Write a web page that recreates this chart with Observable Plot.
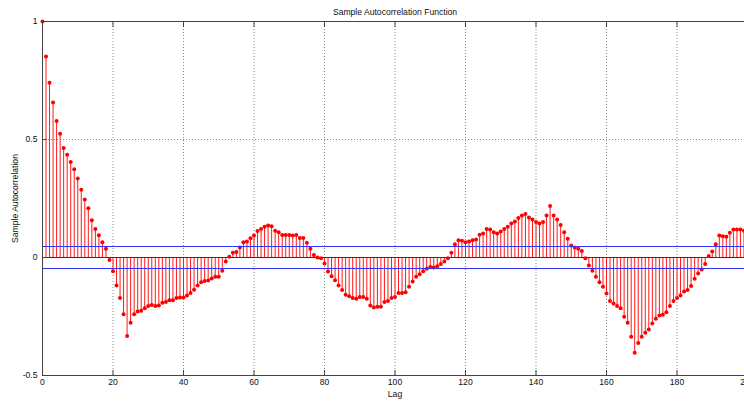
<!DOCTYPE html>
<html>
<head>
<meta charset="utf-8">
<script src="https://cdn.jsdelivr.net/npm/d3@7"></script>
<script src="https://cdn.jsdelivr.net/npm/@observablehq/plot@0.6"></script>
<style>
  html, body { margin: 0; padding: 0; background: #fff; overflow: hidden; }
  #chart svg { max-width: none; display: block; }
</style>
</head>
<body>
<div id="chart"></div>
<script>
// Sample autocorrelation, one value per lag starting at lag 0
const acf = [
  1.000, 0.852, 0.740, 0.657, 0.578, 0.524, 0.464, 0.435, 0.405, 0.374,
  0.335, 0.287, 0.246, 0.209, 0.158, 0.121, 0.094, 0.065, 0.037, -0.011,
  -0.058, -0.119, -0.172, -0.240, -0.333, -0.277, -0.240, -0.229, -0.226, -0.215,
  -0.206, -0.201, -0.206, -0.203, -0.192, -0.189, -0.181, -0.181, -0.172, -0.169,
  -0.169, -0.161, -0.150, -0.137, -0.119, -0.105, -0.100, -0.097, -0.089, -0.082,
  -0.082, -0.056, -0.017, 0.003, 0.020, 0.023, 0.042, 0.065, 0.068, 0.082,
  0.093, 0.112, 0.121, 0.130, 0.136, 0.132, 0.113, 0.107, 0.095, 0.095,
  0.095, 0.093, 0.095, 0.083, 0.083, 0.062, 0.037, 0.011, 0.000, -0.003,
  -0.025, -0.059, -0.079, -0.096, -0.119, -0.138, -0.158, -0.164, -0.172, -0.175,
  -0.167, -0.167, -0.175, -0.203, -0.212, -0.209, -0.209, -0.189, -0.184, -0.172,
  -0.167, -0.150, -0.150, -0.147, -0.124, -0.102, -0.082, -0.071, -0.058, -0.048,
  -0.040, -0.042, -0.037, -0.028, -0.017, -0.003, 0.020, 0.056, 0.073, 0.071,
  0.065, 0.068, 0.073, 0.076, 0.096, 0.102, 0.121, 0.119, 0.107, 0.102,
  0.110, 0.121, 0.130, 0.144, 0.153, 0.167, 0.178, 0.184, 0.169, 0.161,
  0.150, 0.144, 0.150, 0.178, 0.218, 0.178, 0.161, 0.138, 0.107, 0.079,
  0.051, 0.042, 0.037, 0.028, -0.003, -0.034, -0.056, -0.082, -0.105, -0.124,
  -0.153, -0.184, -0.195, -0.206, -0.215, -0.251, -0.277, -0.336, -0.404, -0.362,
  -0.336, -0.319, -0.305, -0.280, -0.260, -0.246, -0.243, -0.232, -0.206, -0.184,
  -0.172, -0.161, -0.144, -0.138, -0.121, -0.090, -0.068, -0.051, -0.028, 0.006,
  0.025, 0.056, 0.093, 0.090, 0.088, 0.105, 0.119, 0.119, 0.119, 0.113
];

// Approximate 95% confidence bound
const confBound = 0.0466;

const xTicks = [0, 20, 40, 60, 80, 100, 120, 140, 160, 180, 200];
const yTicks = [-0.5, 0, 0.5, 1];
const xDomain = [0, 200];
const yDomain = [-0.5, 1];

const title = "Sample Autocorrelation Function";
const xLabel = "Lag";
const yLabel = "Sample Autocorrelation";

const points = acf.map((value, lag) => ({lag, value}));
const textColor = "#111";
const gridColor = "#8a8a8a";
const axisColor = "#444";

const chart = Plot.plot({
  width: 750,
  height: 402,
  marginLeft: 42,
  marginRight: 3,
  marginTop: 21,
  marginBottom: 27,
  style: {
    fontFamily: "'Liberation Sans', Arial, sans-serif",
    fontSize: "8.6px",
    color: textColor,
    background: "#fff",
    maxWidth: "none"
  },
  x: {domain: xDomain, axis: null},
  y: {domain: yDomain, axis: null},
  marks: [
    // dotted grid
    Plot.ruleX(xTicks, {y1: yDomain[0], y2: yDomain[1], stroke: gridColor, strokeDasharray: "1,2"}),
    Plot.ruleY(yTicks.filter(d => d !== 0), {x1: xDomain[0], x2: xDomain[1], stroke: gridColor, strokeDasharray: "1,2"}),
    // stems and markers
    Plot.ruleX(points, {x: "lag", y1: 0, y2: "value", stroke: "#ff1a1a", strokeWidth: 1}),
    Plot.ruleY([0], {x1: xDomain[0], x2: xDomain[1], stroke: "#333"}),
    Plot.dot(points, {x: "lag", y: "value", r: 2, fill: "#ff0000"}),
    // confidence bounds
    Plot.ruleY([confBound, -confBound], {x1: xDomain[0], x2: xDomain[1], stroke: "#3030ff"}),
    // axes box
    Plot.ruleY(yDomain, {x1: xDomain[0], x2: xDomain[1], stroke: axisColor}),
    Plot.ruleX(xDomain, {y1: yDomain[0], y2: yDomain[1], stroke: axisColor}),
    // inward ticks
    Plot.axisX(xTicks, {anchor: "bottom", tickSize: -5, tickFormat: () => "", label: null, stroke: axisColor}),
    Plot.axisX(xTicks, {anchor: "top", tickSize: -5, tickFormat: () => "", label: null, stroke: axisColor}),
    Plot.axisY(yTicks, {anchor: "left", tickSize: -5, tickFormat: () => "", label: null, stroke: axisColor}),
    // tick labels
    Plot.axisX(xTicks, {anchor: "bottom", tickSize: 0, tickPadding: 3, tickFormat: d => String(d), label: null, fill: textColor}),
    Plot.axisY(yTicks, {anchor: "left", tickSize: 0, tickPadding: 5, tickFormat: d => String(d), label: null, fill: textColor}),
    // title and axis labels
    Plot.text([title], {frameAnchor: "top", dy: -9, textAnchor: "middle", lineAnchor: "middle", fill: textColor}),
    Plot.text([xLabel], {frameAnchor: "bottom", dy: 19, textAnchor: "middle", lineAnchor: "middle", fill: textColor}),
    Plot.text([yLabel], {frameAnchor: "left", dx: -27, rotate: -90, textAnchor: "middle", lineAnchor: "middle", fill: textColor})
  ]
});

document.getElementById("chart").appendChild(chart);
</script>
</body>
</html>
